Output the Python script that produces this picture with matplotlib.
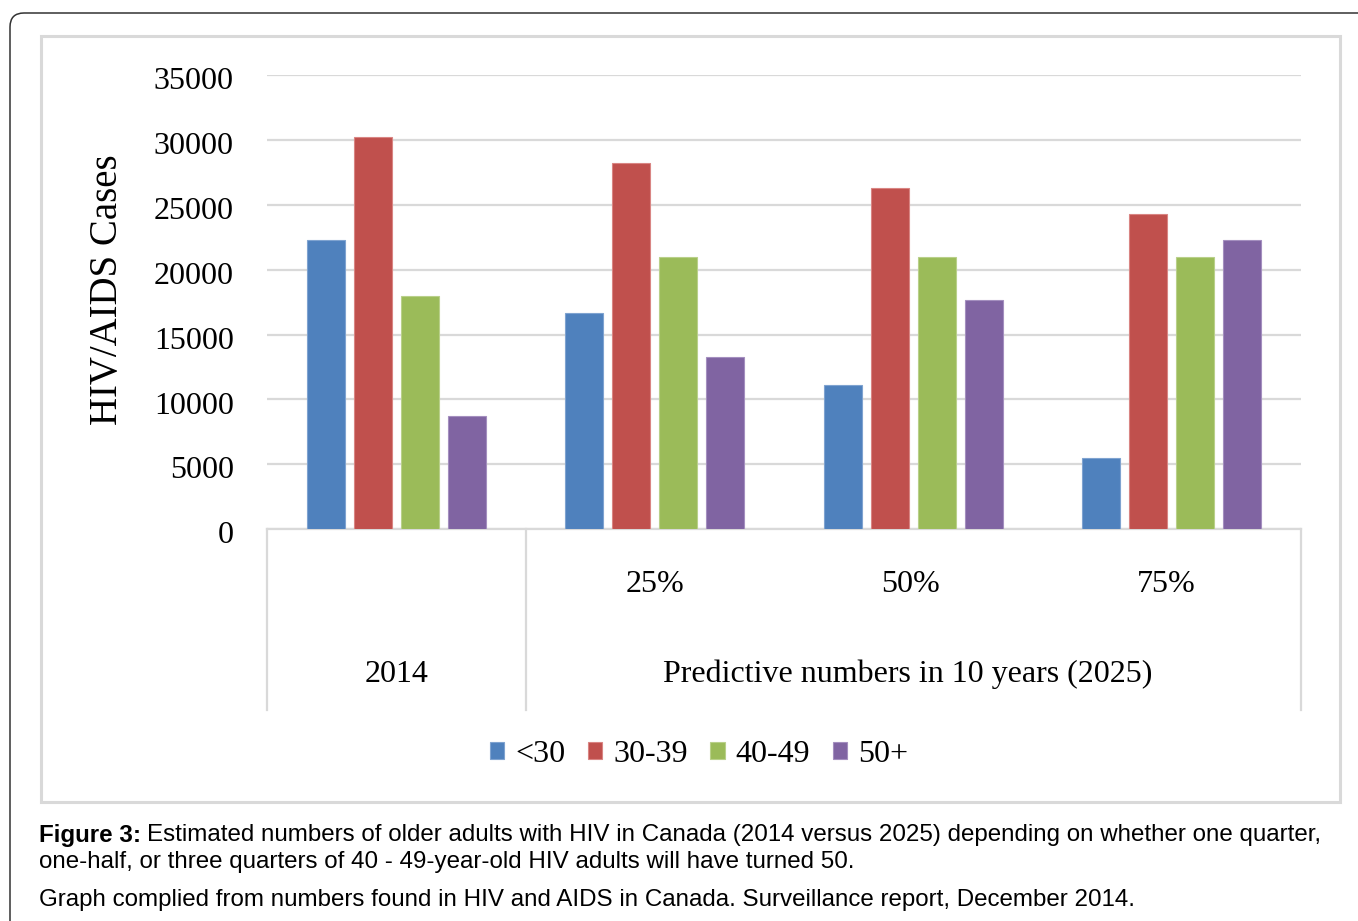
import matplotlib
matplotlib.use("Agg")
import matplotlib.pyplot as plt
from matplotlib.patches import FancyBboxPatch, Rectangle, Patch
import matplotlib.transforms as mtransforms
import numpy as np

# ---- data ----
groups = ["2014", "25%", "50%", "75%"]
top_labels = ["", "25%", "50%", "75%"]
super_labels = ["2014", "Predictive numbers in 10 years (2025)"]
series = ["<30", "30-39", "40-49", "50+"]
under30 = [22300, 16700, 11100, 5500]
age30_39 = [30200, 28200, 26300, 24300]
age40_49 = [18000, 21000, 21000, 21000]
age50plus = [8700, 13300, 17700, 22300]
yticks = [0, 5000, 10000, 15000, 20000, 25000, 30000, 35000]
colors = ["#4F81BD", "#C0504D", "#9BBB59", "#8064A2"]
edge_colors = ["#7FA3D0", "#D98583", "#B9D08A", "#A48FBF"]

W, H = 1358, 921
fig = plt.figure(figsize=(W / 100, H / 100), dpi=100)
serif = "Liberation Serif"
sans = "Liberation Sans"

# outer rounded frame (pixel coordinates)
outer = FancyBboxPatch((10, -40), 1400, H - 13 + 40,
                       boxstyle="round,pad=0,rounding_size=14",
                       transform=None, fill=False, edgecolor="#333333",
                       linewidth=1.1)
fig.patches.append(outer)

# inner chart box
inner = Rectangle((41, H - 802), 1340 - 41, 802 - 36, transform=None,
                  fill=False, edgecolor="#D9D9D9", linewidth=2.2)
fig.patches.append(inner)

ax_l, ax_r = 267 / W, 1301 / W
ax_b, ax_t = 1 - 529.3 / H, 1 - 75 / H
ax = fig.add_axes([ax_l, ax_b, ax_r - ax_l, ax_t - ax_b])

x = np.arange(len(groups))
step = 0.182
width = 0.148
data = [under30, age30_39, age40_49, age50plus]
for i, (vals, c, ec) in enumerate(zip(data, colors, edge_colors)):
    ax.bar(x + (i - 1.5) * step, vals, width=width, color=c,
           edgecolor=ec, linewidth=0.8, zorder=3, label=series[i])

ax.set_xlim(-0.5, len(groups) - 0.5)
ax.set_ylim(0, 35000)
ax.set_yticks(yticks)
ax.set_yticklabels([str(v) for v in yticks], fontfamily=serif, fontsize=23)
ax.tick_params(axis="y", length=0, pad=24)
ax.tick_params(axis="x", length=0, labelbottom=False)
shift = mtransforms.ScaledTranslation(0, -3 / 100, fig.dpi_scale_trans)
for lab in ax.get_yticklabels():
    lab.set_transform(lab.get_transform() + shift)
ax.grid(axis="y", color="#D9D9D9", linewidth=1.6, zorder=0)
ax.set_axisbelow(True)
for s in ["left", "right", "top"]:
    ax.spines[s].set_visible(False)
ax.spines["bottom"].set_color("#D9D9D9")
ax.spines["bottom"].set_linewidth(1.6)

# multi-level category axis
trans = ax.get_xaxis_transform()
ybot = -(710 - 529.3) / (529.3 - 75)
for xv in [-0.5, 0.5, len(groups) - 0.5]:
    ax.plot([xv, xv], [0, ybot], transform=trans, color="#D9D9D9",
            linewidth=1.6, clip_on=False, zorder=1)
y1 = -(585 - 529.3) / (529.3 - 75)
y2 = -(674 - 529.3) / (529.3 - 75)
for xi, lab in zip(x, top_labels):
    if lab:
        ax.text(xi - 0.01 * (xi - 1), y1, lab, transform=trans, ha="center",
                va="center", fontfamily=serif, fontsize=23)
ax.text(0, y2, super_labels[0], transform=trans, ha="center", va="center",
        fontfamily=serif, fontsize=23)
ax.text(1.98, y2, super_labels[1], transform=trans, ha="center", va="center",
        fontfamily=serif, fontsize=23)

# y label
fig.text(108 / W, 1 - 290 / H, "HIV/AIDS Cases", rotation=90,
         ha="center", va="center", fontfamily=serif, fontsize=28)

# legend
handles = [Patch(facecolor=c, edgecolor=ec, linewidth=0.8)
           for c, ec in zip(colors, edge_colors)]
fig.legend(handles, series, loc="center", bbox_to_anchor=(699 / W, 1 - 754 / H),
           ncol=4, frameon=False, prop={"family": serif, "size": 23},
           handlelength=0.45, handleheight=0.45, handletextpad=0.35,
           columnspacing=0.7)

# caption
fig.canvas.draw()
renderer = fig.canvas.get_renderer()
cap_fs = 17.4
t_bold = fig.text(39 / W, 1 - 835 / H, "Figure 3:", fontfamily=sans,
                  fontweight="bold", fontsize=cap_fs, ha="left", va="center")
bb = t_bold.get_window_extent(renderer)
fig.text((bb.x1 + 6) / W, 1 - 835 / H,
         "Estimated numbers of older adults with HIV in Canada (2014 versus 2025) depending on whether one quarter,",
         fontfamily=sans, fontsize=cap_fs, ha="left", va="center")
fig.text(39 / W, 1 - 862 / H,
         "one-half, or three quarters of 40 - 49-year-old HIV adults will have turned 50.",
         fontfamily=sans, fontsize=cap_fs, ha="left", va="center")
fig.text(39 / W, 1 - 900 / H,
         "Graph complied from numbers found in HIV and AIDS in Canada. Surveillance report, December 2014.",
         fontfamily=sans, fontsize=cap_fs, ha="left", va="center")

fig.savefig("out.png", dpi=100)
